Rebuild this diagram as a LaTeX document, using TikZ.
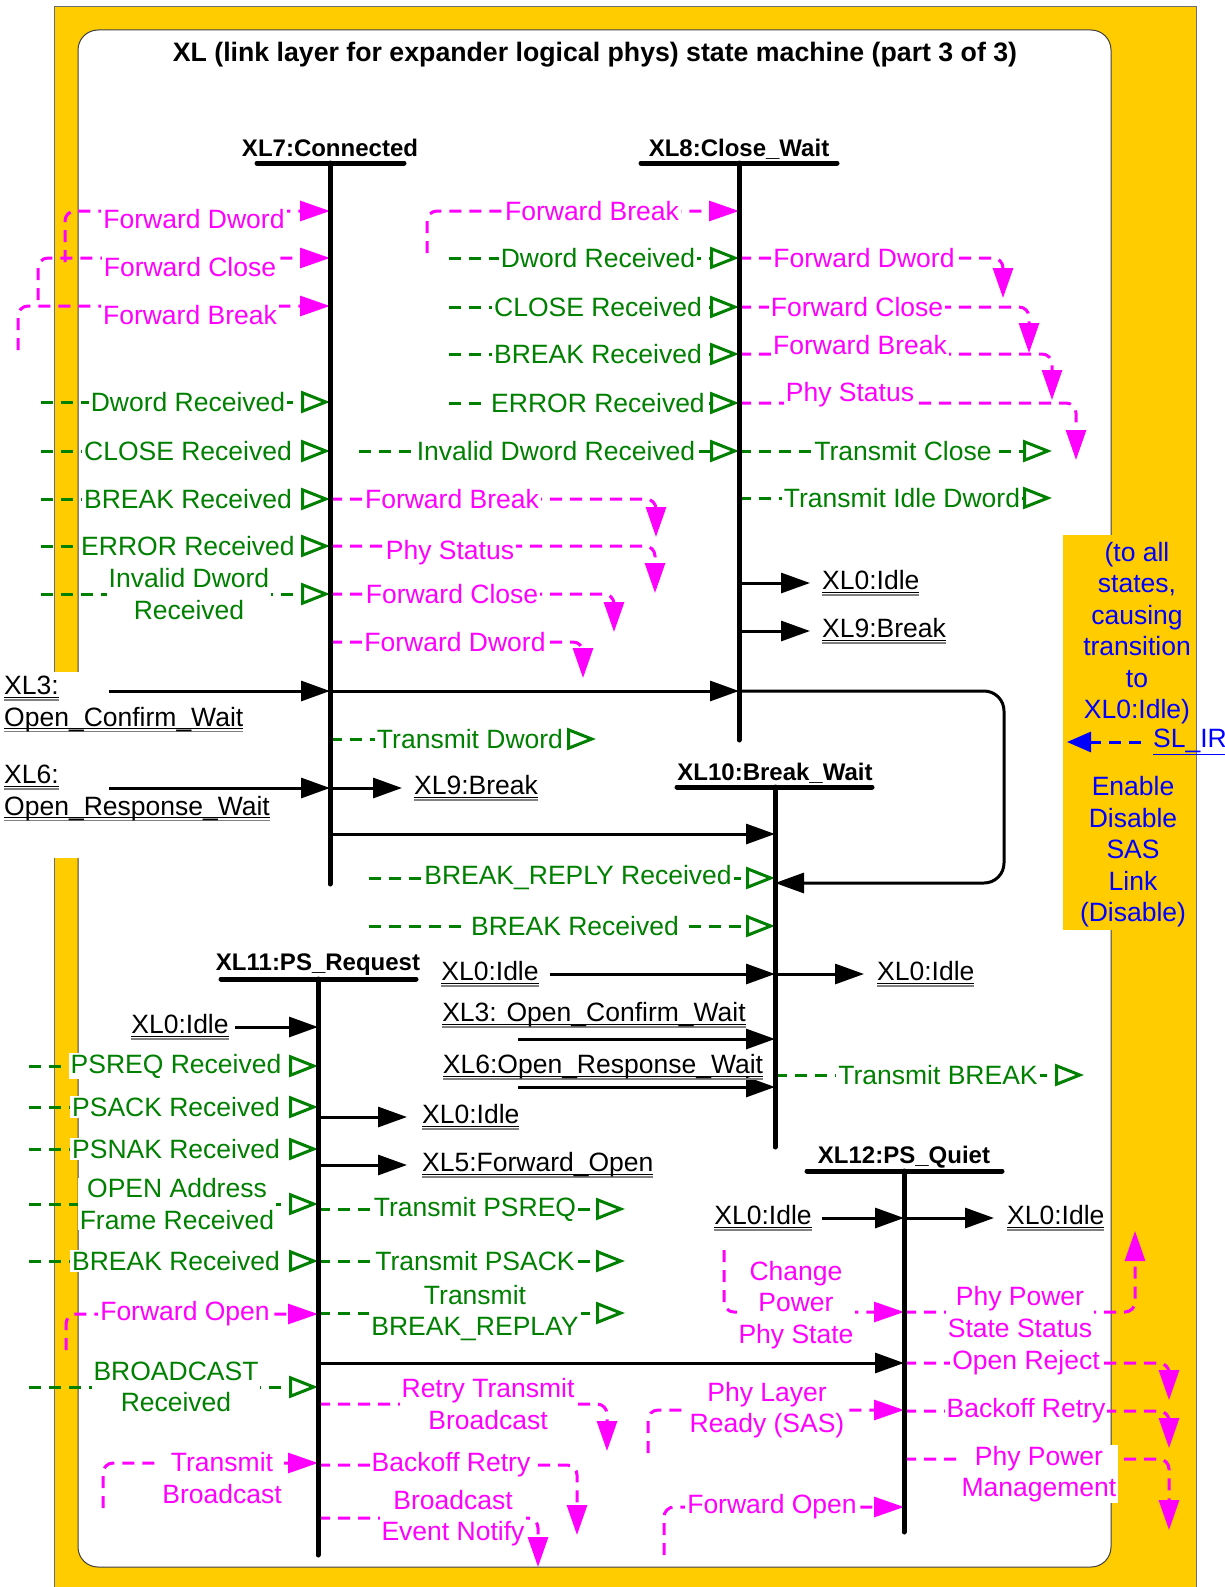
\documentclass[tikz,border=0pt]{standalone}
\usepackage{fontspec}
\setmainfont{Liberation Sans}
\usepackage{tikz}
\usetikzlibrary{arrows.meta,positioning,calc,backgrounds}
\definecolor{FrameGold}{HTML}{FFCC00}
\definecolor{RecvGreen}{HTML}{008000}
\definecolor{FwdMagenta}{HTML}{FF00FF}
\definecolor{NoteBlue}{HTML}{0000FF}
\definecolor{EdgeGray}{HTML}{6E6E6E}

% double underline of the state references
\newlength{\reflen}
\newcommand{\xlref}[1]{\settowidth{\reflen}{#1}\rlap{\textcolor{gray}{\rule[-6pt]{\reflen}{1.3pt}}}\rlap{\rule[-3.3pt]{\reflen}{1.3pt}}#1}

\begin{document}
\begin{tikzpicture}[
    x=1pt, y=-1pt,
    font=\fontsize{26.5}{31.5}\selectfont,
    % state name above its bar
    statename/.style={font=\fontsize{24}{28}\selectfont\bfseries, inner sep=0pt, anchor=base},
    statebar/.style={line width=5pt, line cap=round},
    glbl/.style={text=RecvGreen, fill=white, inner xsep=2pt, inner ysep=1pt, align=center},
    mlbl/.style={text=FwdMagenta, fill=white, inner xsep=2pt, inner ysep=1pt, align=center},
    slbl/.style={inner sep=2pt, align=left},
    % connectors
    recv/.style={draw=RecvGreen, line width=3pt, dash pattern=on 12pt off 8pt, -{Triangle[open, length=29pt, width=22pt]}},
    fwd/.style={draw=FwdMagenta, line width=3pt, dash pattern=on 12pt off 8pt, rounded corners=10pt, -{Triangle[length=30pt, width=20pt]}},
    trans/.style={draw=black, line width=3pt, -{Triangle[length=29pt, width=20pt]}},
    sig/.style={draw=NoteBlue, line width=3pt, dash pattern=on 12pt off 8pt, -{Triangle[length=24pt, width=20pt]}}
]
\useasboundingbox (0,0) rectangle (1225,1587);

% frame
\begin{scope}[on background layer]
\draw[EdgeGray, fill=FrameGold, line width=1pt] (54,7) rectangle (1196,1600);
\draw[black!75, fill=white, line width=1pt, rounded corners=20pt] (78,30) rectangle (1111,1567);
\fill[white] (48,672) rectangle (79.5,858);
\fill[FrameGold] (1063,535) rectangle (1195.4,930);
\end{scope}

\node[font=\fontsize{26.7}{30}\selectfont\bfseries] (title) at (595,55) {XL (link layer for expander logical phys) state machine (part 3 of 3)};

% state lines
\coordinate (xl7) at (330,163);
\coordinate (xl8) at (739,163);
\coordinate (xl10) at (775,787);
\coordinate (xl11) at (318,979);
\coordinate (xl12) at (904,1171);

\node[statename] (n7) at (330,156) {XL7:Connected};
\node[statename] (n8) at (739,156) {XL8:Close\_Wait};
\node[statename] (n10) at (775,780) {XL10:Break\_Wait};
\node[statename] (n11) at (318,970) {XL11:PS\_Request};
\node[statename] (n12) at (904,1163) {XL12:PS\_Quiet};

\draw[statebar] (257,163) -- (404,163);
\draw[statebar] (xl7) -- (330,884);
\draw[statebar] (641,163) -- (837,163);
\draw[statebar] (xl8) -- (739,740);
\draw[statebar] (677,787) -- (872,787);
\draw[statebar] (xl10) -- (775,1147);
\draw[statebar] (221,979) -- (416,979);
\draw[statebar] (xl11) -- (318,1555);
\draw[statebar] (807,1171) -- (1002,1171);
\draw[statebar] (xl12) -- (904,1532);

% free ends
\coordinate (in7) at (41,0);
\coordinate (in8) at (449,0);
\coordinate (in8b) at (359,0);
\coordinate (in10) at (369,0);
\coordinate (in11) at (29,0);
\coordinate (fd7s) at (65,262);
\coordinate (fc7s) at (38,300);
\coordinate (fb7s) at (18,350);
\coordinate (fb8s) at (427,253);
\coordinate (xl3s) at (109,691);
\coordinate (xl6s) at (109,788);
\coordinate (r710) at (0,834);
\coordinate (loopc) at (1004,883);
\coordinate (x3s) at (518,1039);
\coordinate (x6s) at (518,1087);
\coordinate (fop11s) at (66,1350);
\coordinate (tb11s) at (103,1508);
\coordinate (r1112) at (0,1363);
\coordinate (cps12s) at (724,1250);
\coordinate (plr12s) at (648,1453);
\coordinate (fop12s) at (664,1555);

% XL7:Connected
\node[mlbl] (fd7) at (194,219) {Forward Dword};
\node[mlbl] (fc7) at (190,267) {Forward Close};
\node[mlbl] (fb7) at (190,315) {Forward Break};
\node[glbl] (dr7) at (188,402) {Dword Received};
\node[glbl] (cr7) at (188,451) {CLOSE Received};
\node[glbl] (br7) at (188,499) {BREAK Received};
\node[glbl] (er7) at (188,546) {ERROR Received};
\node[glbl] (ir7) at (189,594) {Invalid Dword\\Received};
\node[mlbl] (fbo7) at (452,499) {Forward Break};
\node[mlbl] (pso7) at (450,553) {Phy Status};
\node[mlbl] (fco7) at (452,594) {Forward Close};
\node[mlbl] (fdo7) at (455,642) {Forward Dword};
\node[glbl] (td7) at (470,739) {Transmit Dword};
\node[slbl, anchor=west] (xl3in) at (2,704) {\xlref{XL3:}\\\xlref{Open\_Confirm\_Wait}};
\node[slbl, anchor=west] (xl6in) at (2,793) {\xlref{XL6:}\\\xlref{Open\_Response\_Wait}};
\node[slbl, anchor=west] (x9o7) at (412,788) {\xlref{XL9:Break}};

% XL8:Close_Wait
\node[mlbl] (fb8) at (592,211) {Forward Break};
\node[glbl] (dr8) at (598,258) {Dword Received};
\node[glbl] (cr8) at (598,307) {CLOSE Received};
\node[glbl] (br8) at (598,354) {BREAK Received};
\node[glbl] (er8) at (598,403) {ERROR Received};
\node[glbl] (ir8) at (556,451) {Invalid Dword Received};
\node[mlbl] (fdo8) at (864,258) {Forward Dword};
\node[mlbl] (fco8) at (857,307) {Forward Close};
\node[mlbl] (fbo8) at (860,345) {Forward Break};
\node[mlbl] (pso8) at (850,395) {Phy Status};
\node[glbl] (tc8) at (903,451) {Transmit Close};
\node[glbl] (ti8) at (902,498) {Transmit Idle Dword};
\node[slbl, anchor=west] (x0o8) at (820,583) {\xlref{XL0:Idle}};
\node[slbl, anchor=west] (x9o8) at (820,631) {\xlref{XL9:Break}};

% XL10:Break_Wait
\node[glbl] (brr10) at (578,878) {BREAK\_REPLY Received};
\node[glbl] (br10) at (575,926) {BREAK Received};
\node[slbl] (x0i10) at (490,974) {\xlref{XL0:Idle}};
\node[slbl, anchor=west] (x0o10) at (875,974) {\xlref{XL0:Idle}};
\node[slbl] (x3i10) at (594,1015) {\xlref{XL3: Open\_Confirm\_Wait}};
\node[slbl] (x6i10) at (603,1067) {\xlref{XL6:Open\_Response\_Wait}};
\node[glbl] (tb10) at (938,1075) {Transmit BREAK};

% XL11:PS_Request
\node[slbl] (x0i11) at (180,1027) {\xlref{XL0:Idle}};
\node[glbl] (psq11) at (176,1066) {PSREQ Received};
\node[glbl] (psa11) at (176,1107) {PSACK Received};
\node[glbl] (psn11) at (176,1149) {PSNAK Received};
\node[glbl] (oaf11) at (177,1204) {OPEN Address\\Frame Received};
\node[glbl] (brk11) at (176,1261) {BREAK Received};
\node[mlbl] (fop11) at (185,1314) {Forward Open};
\node[glbl] (bc11) at (176,1387) {BROADCAST\\Received};
\node[mlbl] (tb11) at (222,1478) {Transmit\\Broadcast};
\node[slbl, anchor=west] (x0o11) at (420,1117) {\xlref{XL0:Idle}};
\node[slbl, anchor=west] (x5o11) at (420,1165) {\xlref{XL5:Forward\_Open}};
\node[glbl] (tpq11) at (475,1209) {Transmit PSREQ};
\node[glbl] (tpa11) at (475,1261) {Transmit PSACK};
\node[glbl] (tbr11) at (475,1313) {Transmit\\BREAK\_REPLAY};
\node[mlbl] (rtb11) at (488,1404) {Retry Transmit\\Broadcast};
\node[mlbl] (bor11) at (451,1465) {Backoff Retry};
\node[mlbl] (ben11) at (453,1518) {Broadcast\\Event Notify};

% XL12:PS_Quiet
\node[slbl] (x0i12) at (763,1218) {\xlref{XL0:Idle}};
\node[slbl, anchor=west] (x0o12) at (1005,1218) {\xlref{XL0:Idle}};
\node[mlbl] (cps12) at (796,1305) {Change\\Power\\Phy State};
\node[mlbl] (pss12) at (1020,1312) {Phy Power\\State Status};
\node[mlbl] (orj12) at (1026,1363) {Open Reject};
\node[mlbl] (plr12) at (767,1410) {Phy Layer\\Ready (SAS)};
\node[mlbl] (bor12) at (1026,1411) {Backoff Retry};
\node[mlbl] (ppm12) at (1039,1474) {Phy Power\\Management};
\node[mlbl] (fop12) at (772,1507) {Forward Open};

% side note
\node[text=NoteBlue, align=center] (note1) at (1137,633) {(to all\\states,\\causing\\transition\\to\\XL0:Idle)};
\node[text=NoteBlue, anchor=west, inner sep=2pt] (slir) at (1151,742) {\underline{SL\_IR}};
\node[text=NoteBlue, align=center] (note2) at (1133,852) {Enable\\Disable\\SAS\\Link\\(Disable)};

\begin{scope}[on background layer]
% XL7 connectors
\draw[fwd] (fd7s) |- ([yshift=8pt]xl7 |- fd7);
\draw[fwd] (fc7s) |- ([yshift=9pt]xl7 |- fc7);
\draw[fwd] (fb7s) |- ([yshift=9pt]xl7 |- fb7);
\draw[recv] (in7 |- dr7) -- (xl7 |- dr7);
\draw[recv] (in7 |- cr7) -- (xl7 |- cr7);
\draw[recv] (in7 |- br7) -- (xl7 |- br7);
\draw[recv] (in7 |- er7) -- (xl7 |- er7);
\draw[recv] (in7 |- ir7) -- (xl7 |- ir7);
\draw[fwd] (xl7 |- fbo7) -| ++(326,38);
\draw[fwd] ([yshift=7pt]xl7 |- pso7) -| ++(325,47);
\draw[fwd] (xl7 |- fco7) -| ++(284,38);
\draw[fwd] (xl7 |- fdo7) -| ++(253,36);
\draw[recv] (xl7 |- td7) -- ++(266,0);
\draw[trans] (xl3s) -- (xl7 |- xl3s);
\draw[trans] (xl7 |- xl3s) -- (xl8 |- xl3s);
\draw[trans, rounded corners=20pt] (xl8 |- xl3s) -| (loopc) -- (xl10 |- loopc);
\draw[trans] (xl6s) -- (xl7 |- xl6s);
\draw[trans, shorten >=10pt] (xl7 |- xl6s) -- (x9o7.west);
\draw[trans] (xl7 |- r710) -- (xl10 |- r710);

% XL8 connectors
\draw[fwd] (fb8s) |- (xl8 |- fb8);
\draw[recv] (in8 |- dr8) -- (xl8 |- dr8);
\draw[recv] (in8 |- cr8) -- (xl8 |- cr8);
\draw[recv] (in8 |- br8) -- (xl8 |- br8);
\draw[recv] (in8 |- er8) -- (xl8 |- er8);
\draw[recv] (in8b |- ir8) -- (xl8 |- ir8);
\draw[fwd] (xl8 |- fdo8) -| ++(264,40);
\draw[fwd] (xl8 |- fco8) -| ++(290,46);
\draw[fwd] ([yshift=-9pt]xl8 |- fbo8) -| ++(313,46);
\draw[fwd] ([yshift=-8pt]xl8 |- pso8) -| ++(337,57);
\draw[recv] (xl8 |- tc8) -- ++(313,0);
\draw[recv] (xl8 |- ti8) -- ++(313,0);
\draw[trans, shorten >=10pt] (xl8 |- x0o8) -- (x0o8.west);
\draw[trans, shorten >=10pt] (xl8 |- x9o8) -- (x9o8.west);

% XL10 connectors
\draw[recv] (in10 |- brr10) -- (xl10 |- brr10);
\draw[recv] (in10 |- br10) -- (xl10 |- br10);
\draw[trans, shorten <=9pt] (x0i10.east) -- (xl10 |- x0i10);
\draw[trans, shorten >=11pt] (xl10 |- x0o10) -- (x0o10.west);
\draw[trans] (x3s) -- (xl10 |- x3s);
\draw[trans] (x6s) -- (xl10 |- x6s);
\draw[recv] (xl10 |- tb10) -- ++(309,0);

% XL11 connectors
\draw[trans, shorten <=4pt] (x0i11.east) -- (xl11 |- x0i11);
\draw[recv] (in11 |- psq11) -- (xl11 |- psq11);
\draw[recv] (in11 |- psa11) -- (xl11 |- psa11);
\draw[recv] (in11 |- psn11) -- (xl11 |- psn11);
\draw[recv] (in11 |- oaf11) -- (xl11 |- oaf11);
\draw[recv] (in11 |- brk11) -- (xl11 |- brk11);
\draw[fwd] (fop11s) |- (xl11 |- fop11);
\draw[recv] (in11 |- bc11) -- (xl11 |- bc11);
\draw[fwd] (tb11s) |- ([yshift=15pt]xl11 |- tb11);
\draw[trans, shorten >=13pt] (xl11 |- x0o11) -- (x0o11.west);
\draw[trans, shorten >=13pt] (xl11 |- x5o11) -- (x5o11.west);
\draw[recv] (xl11 |- tpq11) -- ++(307,0);
\draw[recv] (xl11 |- tpa11) -- ++(307,0);
\draw[recv] (xl11 |- tbr11) -- ++(307,0);
\draw[trans] (xl11 |- r1112) -- (xl12 |- r1112);
\draw[fwd] (xl11 |- rtb11) -| ++(289,47);
\draw[fwd] (xl11 |- bor11) -| ++(259,70);
\draw[fwd] (xl11 |- ben11) -| ++(220,49);

% XL12 connectors
\draw[trans, shorten <=8pt] (x0i12.east) -- (xl12 |- x0i12);
\draw[trans, shorten >=11pt] (xl12 |- x0o12) -- (x0o12.west);
\draw[fwd] (cps12s) |- (xl12 |- pss12);
\draw[fwd] (xl12 |- pss12) -| ++(231,-81);
\draw[fwd] (xl12 |- orj12) -| ++(265,37);
\draw[fwd] (plr12s) |- (xl12 |- plr12);
\draw[fwd] (xl12 |- bor12) -| ++(265,37);
\draw[fwd] ([yshift=15pt]xl12 |- ppm12) -| ++(265,71);
\draw[fwd] (fop12s) |- (xl12 |- fop12);

% external request
\draw[sig, shorten <=10pt] (slir.west) -- ++(-84,0);
\end{scope}

\end{tikzpicture}
\end{document}
